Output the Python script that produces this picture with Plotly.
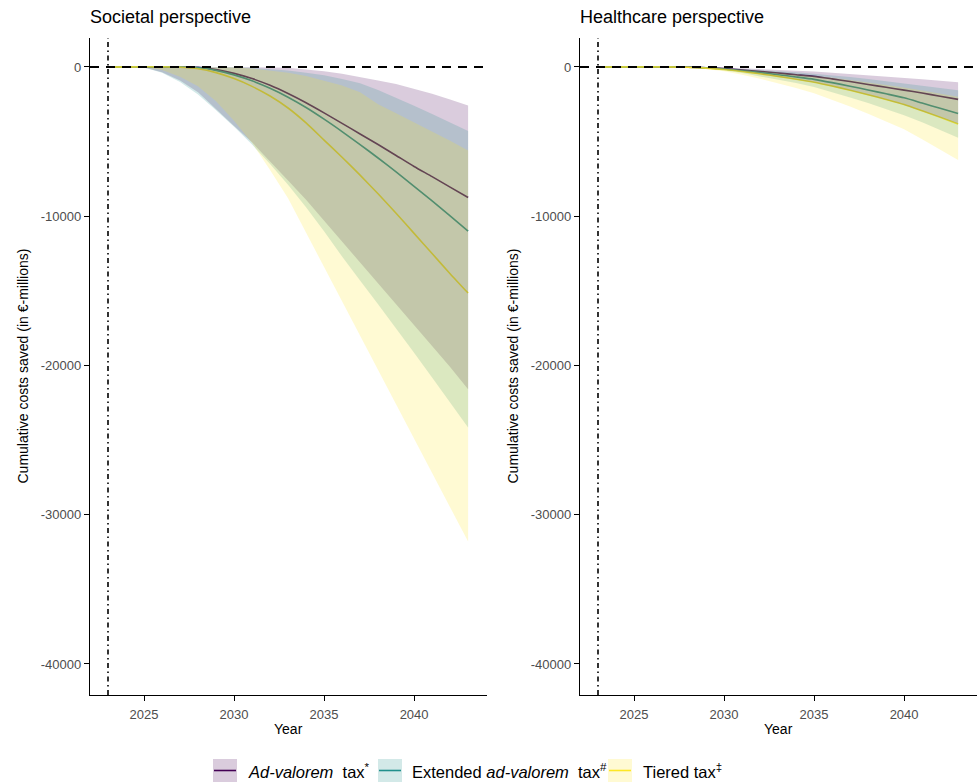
import plotly.graph_objects as go
from plotly.subplots import make_subplots

years = list(range(2023, 2044))

# Societal perspective (EUR millions, cumulative)
soc_adval = [0, 0, 0, 0, 0, -30, -180, -430, -780, -1230, -1780, -2400, -3080, -3780, -4490, -5200, -5930, -6670, -7350, -8050, -8750]
soc_adval_hi = [0, 0, 0, 0, 0, 0, 0, 0, -10, -30, -60, -150, -280, -450, -650, -900, -1150, -1450, -1800, -2180, -2590]
soc_adval_lo = [0, 0, -30, -350, -900, -1700, -2800, -3950, -5050, -6300, -7600, -8900, -10300, -11700, -13100, -14500, -15900, -17300, -18700, -20100, -21600]
soc_ext = [0, 0, 0, 0, 0, -40, -230, -530, -930, -1430, -2030, -2720, -3500, -4330, -5200, -6100, -7030, -8000, -8980, -9980, -11000]
soc_ext_hi = [0, 0, 0, 0, 0, 0, 0, -20, -60, -130, -240, -380, -560, -800, -1100, -1550, -2050, -2600, -3150, -3700, -4290]
soc_ext_lo = [0, 0, -30, -380, -1000, -1850, -2900, -4000, -5200, -6500, -7900, -9400, -11000, -12700, -14300, -15900, -17500, -19150, -20800, -22450, -24160]
soc_tier = [0, 0, 0, 0, -15, -120, -380, -780, -1300, -1950, -2750, -3750, -4900, -6050, -7250, -8500, -9800, -11150, -12500, -13850, -15150]
soc_tier_hi = [0, 0, 0, 0, 0, 0, -10, -40, -110, -220, -380, -600, -900, -1250, -1700, -2500, -3100, -3700, -4300, -4950, -5600]
soc_tier_lo = [0, 0, -10, -200, -650, -1300, -2300, -3600, -5100, -6900, -8800, -11100, -13400, -15700, -18000, -20300, -22600, -24900, -27200, -29500, -31800]

# Healthcare perspective
hc_adval = [0, 0, 0, 0, 0, -10, -50, -110, -200, -300, -410, -520, -630, -800, -980, -1170, -1360, -1550, -1750, -1960, -2170]
hc_adval_hi = [0, 0, 0, 0, 0, 0, -20, -50, -90, -140, -190, -250, -310, -390, -470, -560, -650, -740, -830, -930, -1030]
hc_adval_lo = [0, 0, 0, 0, 0, -20, -80, -180, -320, -480, -660, -850, -1050, -1320, -1600, -1900, -2220, -2560, -2950, -3380, -3800]
hc_ext = [0, 0, 0, 0, 0, -15, -60, -140, -250, -380, -520, -670, -830, -1050, -1290, -1540, -1800, -2070, -2420, -2770, -3120]
hc_ext_hi = [0, 0, 0, 0, 0, 0, -30, -70, -130, -200, -280, -360, -450, -560, -680, -810, -950, -1090, -1240, -1400, -1560]
hc_ext_lo = [0, 0, 0, 0, 0, -30, -100, -230, -410, -620, -840, -1080, -1340, -1680, -2040, -2420, -2820, -3240, -3710, -4210, -4740]
hc_tier = [0, 0, 0, 0, 0, -20, -80, -170, -300, -460, -630, -820, -1020, -1280, -1560, -1860, -2180, -2520, -2940, -3370, -3820]
hc_tier_hi = [0, 0, 0, 0, 0, 0, -40, -90, -160, -250, -350, -460, -570, -720, -870, -1030, -1200, -1380, -1580, -1790, -2000]
hc_tier_lo = [0, 0, 0, 0, 0, -40, -130, -290, -520, -790, -1090, -1410, -1760, -2190, -2650, -3140, -3650, -4180, -4840, -5520, -6230]

series_names = ["<i>Ad-valorem</i>  tax<sup>*</sup>",
                "Extended <i>ad-valorem</i>  tax<sup>#</sup>",
                "Tiered tax<sup>‡</sup>"]
line_colors = ["#440154", "#21908C", "#FDE725"]
fill_colors = ["rgba(68,1,84,0.2)", "rgba(33,144,140,0.2)", "rgba(253,231,37,0.2)"]

yticks = [0, -10000, -20000, -30000, -40000]
yticktext = ["0", "-10000", "-20000", "-30000", "-40000"]
xticks = [2025, 2030, 2035, 2040]
policy_year = 2023
panel_titles = ["Societal perspective", "Healthcare perspective"]
y_title = "Cumulative costs saved (in €-millions)"
x_title = "Year"

panels = [
    [(soc_adval, soc_adval_hi, soc_adval_lo),
     (soc_ext, soc_ext_hi, soc_ext_lo),
     (soc_tier, soc_tier_hi, soc_tier_lo)],
    [(hc_adval, hc_adval_hi, hc_adval_lo),
     (hc_ext, hc_ext_hi, hc_ext_lo),
     (hc_tier, hc_tier_hi, hc_tier_lo)],
]

FONT = "Liberation Sans, Arial, sans-serif"
W, H = 979, 784
ml, mr, mt, mb = 90, 2, 38, 89
pw = W - ml - mr
ph = H - mt - mb


def px(X):
    return (X - ml) / pw


def py(Y):
    return (mt + ph - Y) / ph


left_dom = [0, px(487)]
right_dom = [px(580), 1]

fig = make_subplots(rows=1, cols=2)

for ci, groups in enumerate(panels):
    col = ci + 1
    for si, (mid, hi, lo) in enumerate(groups):
        fig.add_trace(go.Scatter(x=years, y=mid, mode="lines",
                                 line=dict(color=line_colors[si], width=1.6, shape="spline", smoothing=0.6),
                                 showlegend=False, hoverinfo="skip"), row=1, col=col)
    for si, (mid, hi, lo) in enumerate(groups):
        fig.add_trace(go.Scatter(x=years + years[::-1], y=hi + lo[::-1], mode="lines",
                                 fill="toself", fillcolor=fill_colors[si],
                                 line=dict(width=0, color=fill_colors[si]),
                                 showlegend=False, hoverinfo="skip"), row=1, col=col)

axis_common = dict(showline=True, linecolor="black", linewidth=1.3, ticks="outside",
                   ticklen=5, tickcolor="black", tickwidth=1.1, showgrid=False, zeroline=False,
                   tickfont=dict(family=FONT, size=13, color="#4d4d4d"))

fig.update_xaxes(**axis_common, range=[2022.0, 2044.05], tickvals=xticks, ticklabelstandoff=2)
fig.update_yaxes(**axis_common, range=[-42080, 1940], tickvals=yticks, ticktext=yticktext)
fig.update_layout(xaxis=dict(domain=left_dom), xaxis2=dict(domain=right_dom))

for xr, yr in [("x", "y"), ("x2", "y2")]:
    fig.add_shape(type="line", xref=f"{xr} domain", yref=yr, x0=0, x1=1, y0=0, y1=0,
                  line=dict(color="black", width=1.9, dash="9px,7px"), layer="above")
    fig.add_shape(type="line", xref=xr, yref=f"{yr} domain", x0=policy_year, x1=policy_year, y0=0, y1=1,
                  line=dict(color="black", width=1.6, dash="5px,3.5px,1.5px,3.5px"), layer="above")

for ci, dom in enumerate([left_dom, right_dom]):
    fig.add_annotation(text=panel_titles[ci], xref="paper", yref="paper", x=dom[0], y=py(17),
                       xanchor="left", yanchor="middle", showarrow=False, xshift=-2,
                       font=dict(family=FONT, size=18, color="black"))
    fig.add_annotation(text=y_title, xref="paper", yref="paper", x=dom[0] - 68 / pw, y=0.5,
                       xanchor="center", yanchor="middle", showarrow=False, textangle=-90,
                       font=dict(family=FONT, size=14, color="black"))
    fig.add_annotation(text=x_title, xref="paper", yref="paper", x=(dom[0] + dom[1]) / 2, y=py(729),
                       xanchor="center", yanchor="middle", showarrow=False,
                       font=dict(family=FONT, size=14, color="black"))

# legend (keys drawn as filled boxes with a line through)
key_x = [213, 378, 608]
text_x = [248, 412, 643]
key_y0, key_y1, key_mid = 759, 782, 770.5
for si in range(3):
    fig.add_shape(type="rect", xref="paper", yref="paper",
                  x0=px(key_x[si]), x1=px(key_x[si] + 24), y0=py(key_y1), y1=py(key_y0),
                  fillcolor=fill_colors[si], line=dict(width=0))
    fig.add_shape(type="line", xref="paper", yref="paper",
                  x0=px(key_x[si] + 1), x1=px(key_x[si] + 23), y0=py(key_mid), y1=py(key_mid),
                  line=dict(color=line_colors[si], width=1.6))
    fig.add_annotation(text=series_names[si], xref="paper", yref="paper", x=px(text_x[si]), y=py(771),
                       xanchor="left", yanchor="middle", showarrow=False, xshift=-2,
                       font=dict(family=FONT, size=16.5, color="black"))

fig.update_layout(
    width=W, height=H,
    margin=dict(l=ml, r=mr, t=mt, b=mb),
    paper_bgcolor="white", plot_bgcolor="white",
    font=dict(family=FONT, color="black"),
    showlegend=False,
)

fig.write_html("out.html")
